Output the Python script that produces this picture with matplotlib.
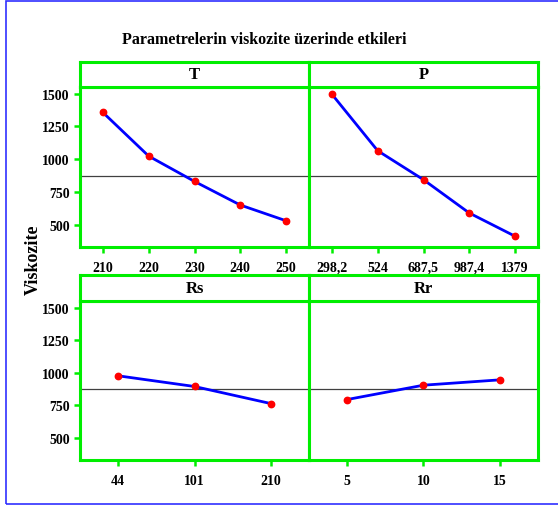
import matplotlib.pyplot as plt
from matplotlib.patches import Rectangle

# factor levels and mean viscosity per level
t_levels = ["210", "220", "230", "240", "250"]
t_means = [1356, 1023, 830, 650, 530]
p_levels = ["298,2", "524", "687,5", "987,4", "1379"]
p_means = [1495, 1064, 843, 589, 412]
rs_levels = ["44", "101", "210"]
rs_means = [976, 894, 763]
rr_levels = ["5", "10", "15"]
rr_means = [794, 904, 945]
grand_mean = 875
y_ticks = [500, 750, 1000, 1250, 1500]

GREEN = "#00ee00"
W, H = 558, 506
FONT = "Liberation Serif"

fig = plt.figure(figsize=(W / 100, H / 100), dpi=100)


# pixel box -> figure fraction
def box(x0, y0, x1, y1):
    return [x0 / W, 1 - y1 / H, (x1 - x0) / W, (y1 - y0) / H]


# blue frame around everything
fig.patches.append(Rectangle((5.5 / W, 1 - 505 / H), 1, (503 / H), transform=fig.transFigure,
                             fill=False, edgecolor="#3030ff", linewidth=1.2))

panels = [
    ("T", t_levels, t_means, (80, 63, 309, 88, 248), True),
    ("P", p_levels, p_means, (309, 63, 538, 88, 248), False),
    ("Rs", rs_levels, rs_means, (80, 276, 309, 302, 461), True),
    ("Rr", rr_levels, rr_means, (309, 276, 538, 302, 461), False),
]

for name, levels, means, (x0, s0, x1, p0, p1), left in panels:
    ax = fig.add_axes(box(x0, p0, x1, p1))
    xs = range(1, len(levels) + 1)
    ax.axhline(grand_mean, color="#404040", linewidth=0.9, zorder=1)
    ax.plot(xs, means, color="#0000ff", linewidth=2, zorder=2)
    ax.plot(xs, means, "o", color="#ff0000", markersize=4.6, zorder=3)
    ax.set_xlim(0.5, len(levels) + 0.5)
    ax.set_ylim(330, 1550)
    ax.set_xticks(list(xs))
    ax.set_xticklabels(levels)
    ax.set_yticks(y_ticks)
    for s in ax.spines.values():
        s.set_color(GREEN)
        s.set_linewidth(2.2)
    ax.tick_params(axis="both", direction="out", color=GREEN, width=1.8, length=4)
    ax.tick_params(axis="x", pad=6)
    if left:
        ax.set_yticklabels([str(v) for v in y_ticks])
    else:
        ax.tick_params(axis="y", left=False, labelleft=False)
    for lab in ax.get_xticklabels() + ax.get_yticklabels():
        lab.set_fontfamily(FONT)
        lab.set_fontweight("bold")
        lab.set_fontsize(10)

    # strip header
    sx = fig.add_axes(box(x0, s0, x1, p0))
    sx.set_xticks([])
    sx.set_yticks([])
    for s in sx.spines.values():
        s.set_color(GREEN)
        s.set_linewidth(2.2)
    sx.text(0.5, 0.5, name, ha="center", va="center", fontsize=12,
            fontfamily=FONT, fontweight="bold", transform=sx.transAxes)

fig.text(264 / W, 1 - 40 / H, "Parametrelerin viskozite üzerinde etkileri", ha="center", va="center",
         fontsize=11.5, fontfamily=FONT, fontweight="bold")
fig.text(33 / W, 1 - 260 / H, "Viskozite", ha="center", va="center", rotation=90,
         fontsize=13, fontfamily=FONT, fontweight="bold")

fig.savefig("out.png", dpi=100)
